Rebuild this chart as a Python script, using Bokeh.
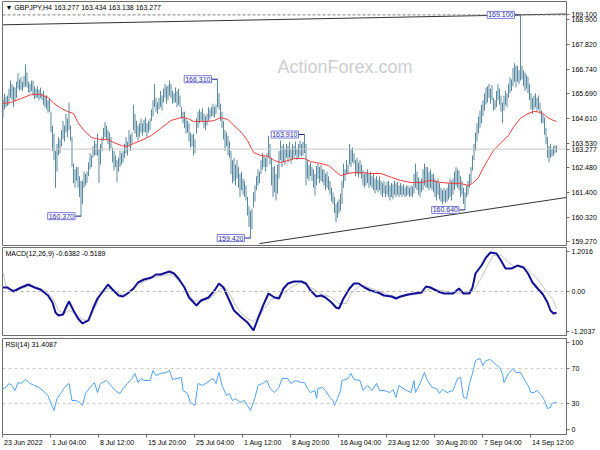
from bokeh.plotting import figure
from bokeh.layouts import column
from bokeh.models import FixedTicker, Label, Span, Range1d
from bokeh.embed import file_html
from bokeh.resources import INLINE

# ---------------- data ----------------
highs = [
    165.45, 165.69, 165.55, 165.6, 165.9, 166.25, 166.1, 166.0, 165.95, 166.2,
    166.56, 166.3, 166.4, 166.2, 166.45, 166.95, 166.6, 166.2, 166.1, 166.25,
    166.25, 166.0, 165.9, 166.0, 165.85, 165.95, 165.7, 165.8, 165.6, 165.6,
    165.4, 165.5, 164.9, 164.3, 163.95, 163.2, 163.5, 163.8, 163.7, 164.1,
    164.5, 164.3, 164.8, 164.6, 165.3, 164.3, 163.8, 162.65, 162.4, 162.5,
    162.5, 162.1, 161.9, 161.9, 162.3, 162.2, 162.3, 162.7, 163.1, 163.0,
    163.4, 163.65, 163.5, 163.95, 163.3, 163.5, 163.8, 164.2, 164.45, 164.3,
    164.1, 164.0, 163.8, 163.35, 163.2, 163.0, 162.8, 162.9, 163.2, 163.1,
    163.2, 163.5, 163.8, 163.6, 164.1, 163.9, 164.0, 165.2, 164.8, 164.5,
    164.3, 164.4, 164.6, 164.4, 164.55, 164.65, 164.4, 164.5, 164.6, 165.0,
    165.4, 166.1, 165.5, 165.3, 165.5, 165.8, 165.6, 165.9, 166.1, 166.0,
    166.05, 166.25, 166.1, 165.8, 165.7, 165.95, 165.8, 165.9, 165.6, 165.1,
    164.9, 164.9, 164.6, 164.5, 164.4, 164.0, 163.9, 163.95, 163.7, 164.6,
    164.9, 165.0, 164.9, 165.05, 164.8, 164.7, 164.8, 165.1, 165.0, 165.1,
    165.25, 165.1, 165.2, 166.31, 165.7, 165.25, 164.9, 164.5, 164.1, 164.0,
    163.85, 163.6, 163.2, 162.8, 162.9, 162.6, 162.8, 162.5, 162.2, 162.3,
    162.0, 161.9, 161.7, 161.2, 160.8, 160.6, 160.7, 161.4, 161.7, 162.1,
    162.4, 162.3, 162.8, 163.1, 163.0, 162.9, 163.1, 163.85, 163.5, 162.9,
    162.5, 162.55, 162.2, 162.6, 163.2, 163.65, 163.4, 163.5, 163.3, 163.5,
    163.4, 163.6, 163.3, 163.5, 163.4, 163.6, 163.3, 163.5, 163.65, 163.5,
    163.6, 163.91, 163.5, 162.8, 162.6, 162.7, 162.5, 162.4, 162.2, 162.55,
    162.65, 162.5, 162.6, 162.4, 162.4, 162.2, 162.3, 162.1, 161.9, 161.6,
    161.4, 161.2, 160.9, 161.0, 161.1, 161.35, 161.9, 162.65, 162.4, 162.8,
    162.6, 163.5, 163.3, 163.35, 163.1, 162.8, 162.9, 162.7, 162.8, 162.6,
    162.35, 162.2, 162.3, 162.4, 162.2, 162.3, 162.1, 162.2, 162.0, 162.1,
    161.95, 162.1, 161.9, 161.8, 161.9, 161.7, 161.85, 161.9, 161.7, 161.8,
    161.75, 161.9, 161.8, 161.85, 161.7, 161.8, 161.7, 161.75, 161.6, 161.7,
    161.7, 161.6, 161.7, 161.65, 162.2, 162.65, 162.3, 162.05, 161.9, 162.0,
    162.4, 162.65, 162.5, 162.5, 162.3, 162.4, 162.2, 162.2, 162.0, 161.9,
    162.0, 161.8, 161.6, 161.5, 161.6, 161.5, 161.6, 161.8, 162.0, 161.9,
    162.0, 162.3, 162.5, 162.4, 162.35, 162.1, 161.9, 161.6, 161.4, 161.7,
    161.9, 162.2, 162.5, 163.0, 163.5, 164.0, 164.4, 164.7, 164.95, 165.2,
    165.4, 165.7, 165.95, 166.0, 166.1, 165.9, 166.05, 165.5, 165.4, 165.8,
    166.1, 165.9, 165.6, 165.3, 165.6, 165.8, 165.7, 166.1, 166.4, 166.3,
    166.8, 167.0, 166.9, 166.9, 166.7, 169.1, 166.9, 166.7, 166.6, 166.5,
    166.4, 166.1, 165.7, 165.5, 165.6, 165.7, 165.5, 165.6, 165.3, 164.95,
    164.8, 164.65, 164.2, 163.8, 163.4, 163.5, 163.3, 163.4, 163.45, 163.434,
]
lows = [
    164.65, 165.0, 165.1, 165.15, 165.2, 165.5, 165.4, 165.1, 165.35, 165.5,
    165.9, 165.82, 165.85, 165.8, 165.95, 166.0, 165.95, 165.75, 165.7, 165.8,
    165.6, 165.45, 165.5, 165.5, 165.4, 165.5, 165.4, 165.2, 165.1, 165.0,
    164.85, 164.9, 164.0, 163.2, 162.8, 161.6, 162.3, 163.0, 163.1, 163.4,
    163.7, 163.6, 164.0, 163.8, 164.1, 163.65, 162.5, 161.8, 161.6, 161.9,
    161.6, 161.2, 160.37, 160.9, 161.6, 161.7, 161.8, 162.1, 162.4, 162.5,
    162.9, 163.0, 163.0, 163.0, 161.8, 162.6, 163.2, 163.65, 163.8, 163.7,
    163.5, 163.2, 163.3, 162.7, 162.35, 162.5, 161.85, 162.3, 162.5, 162.6,
    162.7, 162.9, 163.1, 163.0, 163.4, 163.2, 163.5, 164.1, 163.95, 163.8,
    163.65, 163.8, 164.0, 163.85, 164.0, 164.0, 163.8, 164.0, 164.1, 164.5,
    164.7, 165.1, 164.9, 164.8, 165.0, 165.1, 164.95, 165.3, 165.5, 165.25,
    165.4, 165.6, 165.5, 165.25, 165.3, 165.3, 165.1, 165.2, 165.1, 164.6,
    164.4, 164.2, 163.95, 164.0, 163.6, 163.35, 163.4, 163.0, 163.1, 163.95,
    164.2, 164.4, 164.5, 164.5, 164.2, 164.1, 164.3, 164.5, 164.6, 164.7,
    164.7, 164.65, 164.8, 165.1, 165.0, 164.5, 164.2, 163.7, 163.2, 163.4,
    163.0, 162.9, 162.2, 161.8, 161.9, 161.7, 162.0, 161.6, 161.2, 161.5,
    161.3, 161.2, 161.05, 160.4, 159.9, 159.42, 159.8, 160.75, 161.0, 161.5,
    161.7, 161.8, 162.2, 162.4, 162.5, 162.3, 162.5, 162.9, 162.6, 161.7,
    161.2, 161.4, 161.05, 161.35, 162.0, 162.8, 162.5, 162.7, 162.6, 162.9,
    162.7, 162.9, 162.65, 162.8, 162.9, 163.0, 162.8, 162.9, 163.0, 162.95,
    163.0, 163.1, 161.7, 162.0, 161.9, 162.1, 161.9, 161.6, 161.26, 161.7,
    162.0, 161.8, 161.9, 161.85, 161.7, 161.5, 161.6, 161.5, 161.3, 161.0,
    160.9, 160.5, 160.1, 160.3, 160.5, 160.6, 160.9, 161.6, 161.9, 162.2,
    162.2, 162.6, 162.5, 162.7, 162.65, 162.1, 162.2, 162.05, 162.2, 162.0,
    161.7, 161.6, 161.7, 161.8, 161.6, 161.7, 161.6, 161.5, 161.35, 161.5,
    161.4, 161.5, 161.3, 161.2, 161.35, 161.2, 161.3, 161.2, 161.05, 161.2,
    161.1, 161.3, 161.2, 161.3, 161.2, 161.3, 161.2, 161.3, 161.2, 161.25,
    161.3, 161.2, 161.25, 161.2, 161.35, 161.6, 161.5, 161.3, 161.2, 161.4,
    161.5, 161.7, 161.6, 161.6, 161.5, 161.6, 161.5, 161.4, 161.2, 161.05,
    161.3, 161.1, 161.0, 160.9, 161.0, 160.95, 161.0, 161.1, 161.2, 161.05,
    161.3, 161.5, 161.7, 161.6, 161.5, 161.2, 161.3, 160.9, 160.64, 161.2,
    161.3, 161.6, 161.8, 162.35, 162.8, 163.2, 163.6, 163.95, 164.2, 164.4,
    164.7, 164.95, 165.2, 165.3, 165.5, 165.25, 165.4, 164.95, 165.0, 165.1,
    165.4, 165.2, 164.9, 164.4, 164.95, 165.2, 165.1, 165.5, 165.7, 165.8,
    166.0, 166.2, 165.95, 166.2, 166.1, 166.25, 166.3, 166.0, 165.8, 165.9,
    165.7, 165.4, 165.0, 164.8, 165.0, 165.1, 164.9, 165.0, 164.8, 164.4,
    164.4, 163.9, 163.5, 162.9, 162.7, 162.9, 162.95, 163.0, 163.1, 163.138,
]
bars = list(range(len(highs)))

ma_bars = [0, 5, 12, 19, 25, 30, 34, 39, 43, 47, 50, 54, 59, 65, 70, 74, 79, 83, 87, 92,
           99, 105, 112, 119, 123, 127, 137, 141, 145, 150, 154, 159, 163, 167, 172, 177,
           181, 185, 190, 194, 201, 205, 212, 217, 221, 225, 230, 234, 239, 245, 252, 259,
           265, 272, 279, 285, 292, 299, 305, 310, 313, 317, 320, 323, 327, 332, 337, 341,
           345, 350, 354, 359, 363, 367, 369]
ma_vals = [165.26, 165.30, 165.47, 165.65, 165.65, 165.52, 165.26, 165.04, 164.91, 164.82,
           164.43, 164.08, 163.78, 163.69, 163.69, 163.56, 163.43, 163.39, 163.52, 163.65,
           163.87, 164.17, 164.52, 164.65, 164.61, 164.48, 164.48, 164.52, 164.65, 164.56,
           164.30, 164.00, 163.65, 163.13, 163.00, 162.96, 162.78, 162.70, 162.78, 162.87,
           162.87, 162.74, 162.65, 162.57, 162.35, 162.13, 162.22, 162.26, 162.26, 162.22,
           162.22, 162.05, 161.92, 161.83, 161.83, 161.92, 161.83, 161.79, 161.79, 161.70,
           161.79, 162.05, 162.44, 162.78, 163.22, 163.56, 163.87, 164.30, 164.61, 164.82,
           164.91, 164.87, 164.65, 164.52, 164.48]

macd_bars = [0, 3, 7, 12, 17, 21, 25, 30, 33, 35, 37, 40, 42, 44, 47, 50, 53, 57, 60, 63,
             67, 70, 73, 77, 80, 83, 87, 90, 94, 99, 102, 105, 111, 114, 117, 121, 124, 129,
             132, 137, 141, 144, 147, 150, 154, 159, 163, 167, 170, 174, 177, 181, 184, 187,
             190, 194, 199, 202, 205, 209, 212, 215, 219, 222, 224, 227, 231, 234, 237, 241,
             245, 250, 254, 259, 262, 265, 270, 274, 279, 282, 285, 290, 294, 300, 304, 307,
             311, 313, 315, 319, 322, 325, 329, 332, 335, 339, 343, 347, 350, 353, 357, 360,
             363, 365, 367, 369]
macd_vals = [0.12, 0.12, 0.0, 0.12, 0.21, 0.12, 0.06, -0.12, -0.33, -0.63, -0.72, -0.69,
             -0.48, -0.30, -0.57, -0.81, -0.96, -0.87, -0.51, -0.21, 0.03, 0.21, 0.06, -0.12,
             -0.15, -0.06, 0.09, 0.27, 0.36, 0.42, 0.51, 0.51, 0.60, 0.54, 0.39, 0.12, -0.18,
             -0.42, -0.27, -0.18, 0.03, 0.24, 0.12, -0.18, -0.57, -0.78, -0.93, -1.17, -0.81,
             -0.36, -0.06, -0.18, -0.21, 0.09, 0.24, 0.30, 0.30, 0.24, 0.03, -0.15, -0.12,
             -0.18, -0.33, -0.48, -0.51, -0.21, 0.09, 0.24, 0.24, 0.12, 0.03, -0.03, -0.12,
             -0.15, -0.21, -0.15, -0.09, -0.06, -0.03, 0.15, 0.12, 0.0, -0.06, -0.06, 0.09,
             -0.06, -0.06, 0.12, 0.54, 0.78, 1.02, 1.17, 1.14, 0.93, 0.69, 0.69, 0.78, 0.72,
             0.54, 0.27, 0.06, -0.09, -0.33, -0.57, -0.66, -0.6382]

signal_bars = [0, 2, 3, 7, 12, 17, 21, 25, 30, 34, 37, 41, 44, 47, 52, 55, 59, 62, 65, 69,
               72, 75, 80, 83, 87, 90, 94, 99, 103, 107, 112, 115, 119, 123, 127, 132, 137,
               141, 145, 149, 152, 155, 159, 163, 167, 171, 174, 179, 183, 187, 192, 197, 199,
               205, 212, 219, 224, 229, 232, 237, 241, 247, 257, 263, 270, 279, 285, 292, 301,
               307, 314, 319, 323, 327, 332, 337, 341, 347, 352, 357, 362, 367, 369]
signal_vals = [0.57, 0.18, 0.06, 0.06, 0.09, 0.15, 0.15, 0.09, -0.03, -0.27, -0.57, -0.66,
               -0.57, -0.63, -0.81, -0.87, -0.72, -0.42, -0.12, 0.09, 0.09, -0.03, -0.09,
               -0.06, 0.06, 0.18, 0.30, 0.39, 0.45, 0.48, 0.51, 0.42, 0.24, -0.03, -0.27,
               -0.30, -0.24, -0.09, 0.09, 0.09, -0.15, -0.42, -0.66, -0.81, -0.90, -0.75,
               -0.51, -0.24, -0.15, -0.06, 0.12, 0.24, 0.27, 0.12, -0.06, -0.18, -0.36,
               -0.36, -0.06, 0.15, 0.18, 0.06, -0.09, -0.18, -0.12, -0.06, 0.09, 0.03, -0.06,
               -0.03, 0.03, 0.42, 0.78, 1.08, 1.08, 0.87, 0.75, 0.75, 0.57, 0.33, 0.03, -0.27,
               -0.5189]

rsi_bars = [0, 2, 4, 6, 8, 10, 12, 15, 18, 21, 24, 28, 30, 32, 34, 36, 39, 41, 44, 46, 49,
            51, 53, 55, 58, 61, 63, 65, 69, 72, 75, 78, 80, 83, 86, 88, 90, 92, 94, 98, 100,
            102, 105, 109, 111, 113, 116, 119, 120, 123, 125, 128, 130, 133, 136, 140, 142,
            144, 146, 149, 151, 153, 155, 158, 161, 163, 165, 168, 170, 173, 176, 178, 181,
            184, 186, 190, 192, 195, 199, 201, 203, 205, 208, 209, 210, 213, 215, 218, 220,
            221, 223, 225, 226, 230, 232, 234, 238, 240, 243, 246, 249, 251, 254, 258, 260,
            262, 264, 269, 272, 274, 275, 278, 281, 283, 286, 289, 291, 293, 296, 300, 303,
            305, 307, 309, 311, 313, 315, 318, 320, 322, 325, 327, 331, 333, 334, 337, 340,
            342, 345, 348, 350, 352, 354, 356, 359, 361, 363, 365, 366, 369]
rsi_vals = [47.1, 48.3, 52.9, 50.6, 44.8, 54.0, 52.9, 57.5, 52.9, 50.6, 48.3, 42.5, 39.1,
            29.9, 21.8, 35.6, 42.5, 48.3, 52.9, 33.3, 33.3, 31.0, 27.6, 41.4, 48.3, 54.0,
            42.5, 52.9, 56.3, 50.6, 44.8, 41.4, 47.1, 52.9, 58.6, 64.4, 54.0, 58.6, 56.3,
            56.3, 67.8, 62.1, 64.4, 65.5, 67.8, 57.5, 58.6, 59.8, 44.8, 41.4, 31.0, 27.6,
            52.9, 50.6, 54.0, 58.6, 52.9, 65.5, 50.6, 39.1, 41.4, 33.3, 35.6, 31.0, 33.3,
            27.6, 21.8, 36.8, 50.6, 52.9, 56.3, 47.1, 42.5, 48.3, 58.6, 58.6, 52.9, 56.3,
            54.0, 54.0, 47.1, 42.5, 44.8, 35.6, 47.1, 48.3, 44.8, 36.8, 33.3, 27.6, 35.6,
            44.8, 56.3, 58.6, 64.4, 57.5, 56.3, 44.8, 50.6, 44.8, 52.9, 44.8, 44.8, 42.5,
            46.0, 36.8, 50.6, 44.8, 42.5, 56.3, 42.5, 52.9, 65.5, 56.3, 48.3, 47.1, 41.4,
            46.0, 42.5, 44.8, 58.6, 59.8, 36.8, 35.6, 52.9, 64.4, 79.3, 81.6, 73.6, 79.3,
            80.5, 77.0, 71.3, 64.4, 54.0, 64.4, 70.1, 65.5, 65.5, 56.3, 50.6, 42.5, 42.5,
            44.8, 39.1, 33.3, 24.1, 25.3, 29.9, 31.4]

price_ticks = [168.900, 167.820, 166.740, 165.690, 164.610, 163.530, 162.480, 161.400, 160.320, 159.270]
macd_ticks = [1.2016, 0.0, -1.2037]
macd_tick_labels = ["1.2016", "0.00", "-1.2037"]
rsi_ticks = [100, 70, 30, 0]
date_ticks = [0, 32, 64, 96, 128, 160, 192, 224, 256, 288, 320, 352]
date_labels = ["23 Jun 2022", "1 Jul 04:00", "8 Jul 12:00", "15 Jul 20:00", "25 Jul 04:00",
               "1 Aug 12:00", "8 Aug 20:00", "16 Aug 04:00", "23 Aug 12:00", "30 Aug 20:00",
               "7 Sep 04:00", "14 Sep 12:00"]

note_bars = [143, 52, 165, 201, 308, 345]
note_prices = [166.310, 160.370, 159.420, 163.910, 160.640, 169.100]

upper_trend_bars = [0, 375.67]
upper_trend_prices = [168.67, 169.14]
lower_trend_bars = [171, 375.67]
lower_trend_prices = [159.18, 161.18]

last_price = 163.277
top_price = 169.100
title_text = "\u25BC GBPJPY,H4  163.277 163.434 163.138 163.277"
macd_title = "MACD(12,26,9) -0.6382 -0.5189"
rsi_title = "RSI(14) 31.4087"

# ---------------- styling ----------------
FONT = "Liberation Sans"
FS_PX = 7.0
FS = f"{FS_PX}px"
BAR_COLOR = "#5A8AA2"
FRAME = "#6E6E6E"
W = 600
FRAME_W = 564
X0 = -0.33
X1 = X0 + FRAME_W / 1.5
xr = Range1d(X0, X1)

# approximate advance widths (em) of the label font, used only to left-align date labels
_W = {" ": 0.278, ":": 0.278, "J": 0.5, "A": 0.667, "S": 0.667, "u": 0.556, "n": 0.556,
      "l": 0.222, "g": 0.556, "e": 0.556, "p": 0.556}


def text_px(s):
    return sum(_W.get(c, 0.556) for c in s) * FS_PX


def make_fig(height, y0, y1, top, bottom, xaxis=False):
    p = figure(width=W, height=height, x_range=xr, y_range=Range1d(y0, y1),
               output_backend="svg", toolbar_location=None,
               x_axis_location=("below" if xaxis else None), y_axis_location="right",
               min_border_left=2, min_border_right=W - 2 - FRAME_W, min_border_top=top,
               min_border_bottom=bottom)
    p.grid.visible = False
    p.outline_line_color = FRAME
    p.outline_line_width = 1
    p.background_fill_color = "white"
    p.border_fill_color = "white"
    for ax in p.axis:
        ax.axis_line_color = FRAME
        ax.major_tick_line_color = FRAME
        ax.minor_tick_line_color = None
        ax.major_tick_out = 3
        ax.major_tick_in = 0
        ax.major_label_text_font = FONT
        ax.major_label_text_font_size = FS
        ax.major_label_text_color = "black"
        ax.major_label_standoff = 2
    return p


def add_title(p, text, y_top, dy):
    p.add_layout(Label(x=X0, y=y_top, x_offset=3, y_offset=dy, text=text,
                       text_font=FONT, text_font_size=FS, text_color="black",
                       text_baseline="top"))


# ---------------- main price panel ----------------
PY0, PY1 = 159.096, 169.681
p1 = make_fig(246, PY0, PY1, 1, 1)
axis_ticks = price_ticks + [last_price, top_price]
p1.yaxis.ticker = FixedTicker(ticks=axis_ticks)
p1.yaxis.major_label_overrides = {t: f"{t:.3f}" for t in axis_ticks}

p1.add_layout(Label(x=228, y=166.86, text="ActionForex.com", text_font=FONT,
                    text_font_size="18px", text_color="#CDCDCD",
                    text_align="center", text_baseline="middle"))
p1.add_layout(Span(location=last_price, dimension="width", line_color="#C8C8C8", line_width=1))
p1.add_layout(Span(location=top_price, dimension="width", line_color="#808080",
                   line_width=1, line_dash="3 2"))
p1.line(upper_trend_bars, upper_trend_prices, line_color="#333333", line_width=1)
p1.line(lower_trend_bars, lower_trend_prices, line_color="#333333", line_width=1)

p1.segment(x0=bars, y0=lows, x1=bars, y1=highs, line_color=BAR_COLOR, line_width=1)
p1.line(ma_bars, ma_vals, line_color="#FF3B3B", line_width=1)

# annotation boxes with connectors
GAP = 4.0
p1.segment(x0=[b - GAP for b in note_bars], y0=note_prices, x1=note_bars, y1=note_prices,
           line_color="#1A1A80", line_width=1)
for b, v in zip(note_bars, note_prices):
    p1.add_layout(Label(x=b - GAP, y=v, text=f"{v:.3f}", text_font=FONT, text_font_size=FS,
                        text_color="#2B2BB5", text_align="right", text_baseline="middle",
                        background_fill_color="white", border_line_color="#7B7BDD",
                        border_line_width=1, padding=1))
add_title(p1, title_text, PY1, -2)

# ---------------- MACD panel ----------------
p2 = make_fig(90, -1.321, 1.321, 1, 1)
p2.yaxis.ticker = FixedTicker(ticks=macd_ticks)
p2.yaxis.major_label_overrides = {t: s for t, s in zip(macd_ticks, macd_tick_labels)}
p2.add_layout(Span(location=0, dimension="width", line_color="#B4B4B4", line_width=1,
                   line_dash="3 3"))
p2.line(signal_bars, signal_vals, line_color="#C4C4C4", line_width=1)
p2.line(macd_bars, macd_vals, line_color="#10109A", line_width=2)
add_title(p2, macd_title, 1.321, -2)

# ---------------- RSI panel ----------------
p3 = make_fig(114, -5.75, 104.6, 2, 16, xaxis=True)
p3.yaxis.ticker = FixedTicker(ticks=rsi_ticks)
# MT4 writes each date to the right of its tick: centre each label half its width right of
# the tick (major ticks, invisible) and draw the real tick marks as minor ticks.
px_per_bar = FRAME_W / (X1 - X0)
label_pos = [t + (text_px(s) / 2 + 1) / px_per_bar for t, s in zip(date_ticks, date_labels)]
p3.xaxis.ticker = FixedTicker(ticks=label_pos, minor_ticks=date_ticks)
p3.xaxis.major_label_overrides = {pos: s for pos, s in zip(label_pos, date_labels)}
p3.xaxis.major_tick_line_color = None
p3.xaxis.minor_tick_line_color = FRAME
p3.xaxis.minor_tick_out = 3
p3.xaxis.minor_tick_in = 0
p3.xaxis.major_label_standoff = 1
for lvl in (70, 30):
    p3.add_layout(Span(location=lvl, dimension="width", line_color="#C8C8C8", line_width=1,
                       line_dash="3 3"))
p3.line(rsi_bars, rsi_vals, line_color="#4DA3FF", line_width=1)
add_title(p3, rsi_title, 104.6, -2)

layout = column(p1, p2, p3, spacing=0)
open("out.html", "w").write(file_html(layout, INLINE))
